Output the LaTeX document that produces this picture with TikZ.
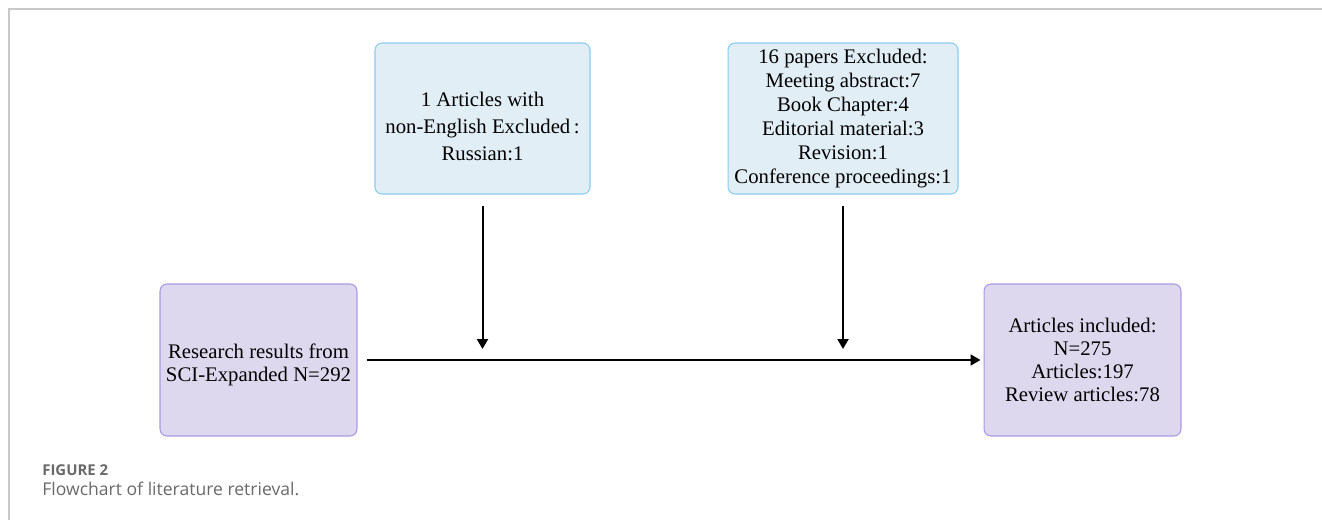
\documentclass[tikz,border=0pt]{standalone}
\usepackage{fontspec}
\setmainfont{Liberation Serif}
\newfontfamily\capfont{Open Sans}
\usepackage{xcolor}
\usetikzlibrary{arrows.meta,positioning,calc}

\definecolor{exclfill}{RGB}{225,238,245}
\definecolor{excldraw}{RGB}{140,202,240}
\definecolor{mainfill}{RGB}{222,216,238}
\definecolor{maindraw}{RGB}{168,152,228}
\definecolor{framegray}{RGB}{200,200,200}
\definecolor{capgray}{RGB}{105,105,105}

\begin{document}
\begin{tikzpicture}[
    x=0.02cm, y=-0.02cm,
    exclbox/.style={rectangle, rounded corners=0.14cm, draw=excldraw, fill=exclfill, line width=0.6pt, minimum height=3.02cm, align=center, font=\fontsize{11.8}{13.7}\selectfont},
    mainbox/.style={rectangle, rounded corners=0.14cm, draw=maindraw, fill=mainfill, line width=0.6pt, minimum width=3.94cm, minimum height=3.04cm, align=center, font=\fontsize{11.8}{13}\selectfont},
    arrow/.style={-{Triangle[length=0.2cm,width=0.22cm]}, line width=0.04cm}
]
    \useasboundingbox (0,0) rectangle (1322,520);
    \draw[framegray, line width=0.7pt] (9,520) -- (9,9) -- (1322,9);

    \node[mainbox] (search) at (258.5,360) {\rule{0pt}{14pt}Research results from\\SCI-Expanded N=292};
    \node[mainbox] (included) at (1082.5,360) {Articles included:\\N=275\\Articles:197\\Review articles:78};
    \node[exclbox, minimum width=4.3cm, font=\fontsize{11.8}{15.3}\selectfont] (lang) at (482.5,118.5) {\rule{0pt}{17pt}1 Articles with\\non-English Excluded\,:\\Russian:1};
    \node[exclbox, minimum width=4.6cm] (types) at (843,118.5) {16 papers Excluded:\\Meeting abstract:7\\Book Chapter:4\\Editorial material:3\\Revision:1\\Conference proceedings:1};

    \coordinate (langjoin) at (lang.south |- search.east);
    \coordinate (typesjoin) at (types.south |- search.east);
    \draw[arrow, shorten <=0.18cm, shorten >=0.06cm] (search.east) -- (included.west);
    \draw[arrow, shorten <=0.22cm, shorten >=0.22cm] (lang.south) -- (langjoin);
    \draw[arrow, shorten <=0.22cm, shorten >=0.22cm] (types.south) -- (typesjoin);

    \node[anchor=base west, inner sep=0, text=capgray, font=\capfont\bfseries\fontsize{8.5}{10}\selectfont] (fignum) at (42,475) {FIGURE 2};
    \node[anchor=base west, inner sep=0, text=capgray, font=\capfont\fontsize{10}{12}\selectfont] (figcap) at (42,495) {Flowchart of literature retrieval.};
\end{tikzpicture}
\end{document}
